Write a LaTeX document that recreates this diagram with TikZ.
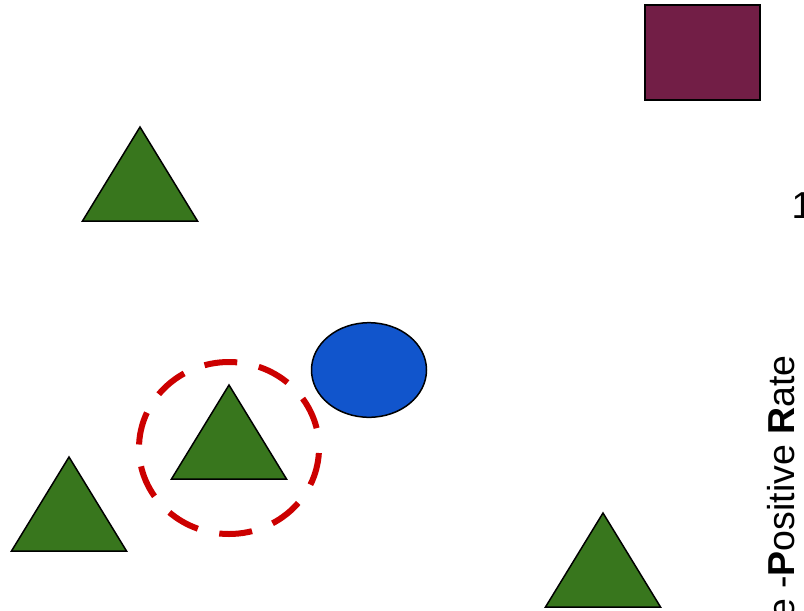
\documentclass[tikz,border=0pt]{standalone}
\usepackage{fontspec}
\setmainfont{Liberation Sans}
\usepackage{tikz}
\definecolor{zold}{HTML}{38761D}
\definecolor{kek}{HTML}{1155CC}
\definecolor{piros}{HTML}{CC0000}
\definecolor{bordo}{RGB}{114,30,70}
\tikzset{
  haromszog/.style={draw=black,line width=1.5pt,fill=zold,line join=miter},
  negyzet/.style={draw=black,line width=1.5pt,fill=bordo},
  kor/.style={draw=black,line width=1.5pt,fill=kek},
  jelolo/.style={draw=piros,line width=6pt,dash pattern=on 33pt off 22pt,dash phase=50pt},
  felirat/.style={inner sep=0pt,font=\fontsize{37.5}{44}\selectfont},
}

\begin{document}
\begin{tikzpicture}[x=1pt,y=-1pt]
  \useasboundingbox (0,0) rectangle (804,611);
  \fill[white] (0,0) rectangle (804,611);
  % alakzatok
  \draw[negyzet] (645,5) rectangle (760,100);
  \foreach \x/\y in {140/127,229/385,69/457,603/513}
    \draw[haromszog] (\x,\y) -- ++(57.5,94) -- ++(-115,0) -- cycle;
  \draw[kor] (369,370) ellipse [x radius=57.5,y radius=47.3];
  \draw[jelolo] (229,448) ellipse [x radius=90,y radius=86];
  % feliratok
  \node[felirat,anchor=base west] (egy) at (791.5,218) {1};
  \node[felirat,rotate=90,anchor=base east] (tengely) at (794,355) {e -\textbf{P}ositive \textbf{R}ate};
\end{tikzpicture}
\end{document}
